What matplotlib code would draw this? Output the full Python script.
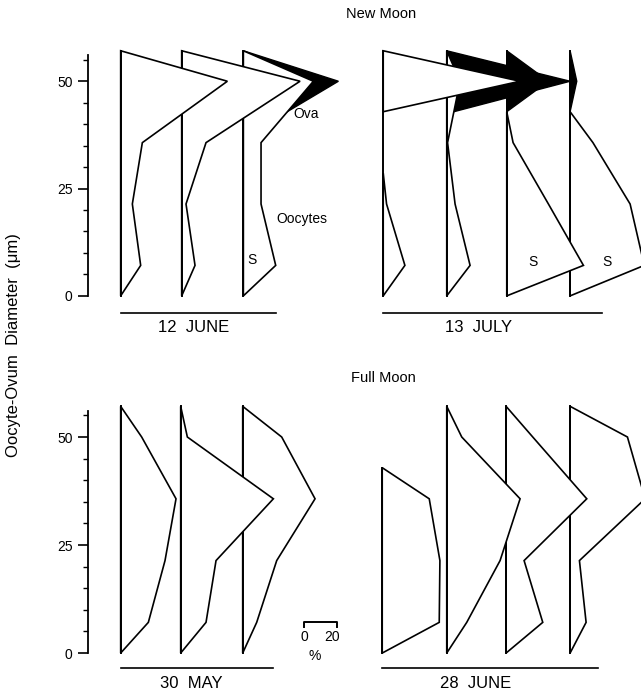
import matplotlib
matplotlib.use('Agg')
import matplotlib.pyplot as plt
from matplotlib.patches import Polygon

plt.rcParams['font.family'] = ['Liberation Sans', 'DejaVu Sans']

# diameter classes (um): class edges and midpoints
edges = [0, 14.3, 28.6, 42.9, 57.1]
mids = [7.1, 21.4, 35.7, 50.0]

# % of oocytes in each class (small -> large), and % ova in the top class
june12_oocytes = [[12, 7, 13, 64], [8, 2.6, 14.6, 71], [19.4, 10.6, 10.6, 42]]
june12_ova = [0, 0, 15]
july13_oocytes = [[13, 2, 0, 82], [14, 5, 0.5, 8], [46, 25, 3.8, 0], [44.5, 36, 13.7, 0]]
july13_ova = [0, 66, 25, 4]
may30_oocytes = [[16.6, 26.6, 33.2, 12.6], [15.2, 21.2, 55.6, 4], [8.4, 20.4, 43.4, 23.4]]
may30_ova = [0, 0, 0]
june28_oocytes = [[34.2, 34.6, 28.2, 0], [12, 32, 44, 9], [22, 10.8, 48.4, 16], [9.6, 5.6, 45, 34.4]]
june28_ova = [0, 0, 0, 0]

# horizontal placement of each profile (in % units from the axis)
june12_x0 = [19.6, 56.2, 93.2]
july13_x0 = [177.1, 215.2, 251.2, 289.2]
may30_x0 = [19.6, 55.6, 92.8]
june28_x0 = [176.5, 215.2, 250.8, 289.2]


def draw_profile(ax, x0, pct, ova, z):
    # runs of non-empty classes
    runs, cur = [], []
    for i, v in enumerate(pct):
        if v > 0:
            cur.append(i)
        elif cur:
            runs.append(cur)
            cur = []
    if cur:
        runs.append(cur)

    if ova > 0:
        tip = pct[3] + ova
        low = (pct[2] + pct[3]) / 2 if pct[3] > 0 else 0
        ax.add_patch(Polygon([(x0, edges[4]), (x0 + tip, mids[3]), (x0 + low, edges[3])],
                             closed=True, fc='black', ec='black', lw=1.0, zorder=z))
    for run in runs:
        pts = [(x0, edges[run[0]])] + [(x0 + pct[i], mids[i]) for i in run] + [(x0, edges[run[-1] + 1])]
        ax.add_patch(Polygon(pts, closed=True, fc='white', ec='black', lw=1.2,
                             joinstyle='miter', zorder=z + 0.1))
    lo = edges[runs[0][0]]
    hi = edges[4] if ova > 0 else edges[runs[-1][-1] + 1]
    ax.plot([x0, x0], [lo, hi], color='black', lw=1.4, zorder=z + 0.2)


def setup_axis(ax, ylim):
    ax.set_xlim(0, 553 / 1.667)
    ax.set_ylim(*ylim)
    for s in ['top', 'right', 'bottom']:
        ax.spines[s].set_visible(False)
    ax.spines['left'].set_bounds(0, 56)
    ax.spines['left'].set_linewidth(1.3)
    ax.set_xticks([])
    ax.set_yticks([0, 25, 50])
    ax.set_yticks([5, 10, 15, 20, 30, 35, 40, 45, 55], minor=True)
    ax.tick_params(axis='y', which='major', length=7, width=1.2, labelsize=10, pad=4)
    ax.tick_params(axis='y', which='minor', length=3.5, width=1.0)
    ax.patch.set_alpha(0)


fig = plt.figure(figsize=(6.41, 6.91), dpi=100)
ax_top = fig.add_axes([88 / 641, 0.5097, 553 / 641, 0.4336])
ax_bot = fig.add_axes([88 / 641, 0.0049, 553 / 641, 0.4252])
setup_axis(ax_top, (-10, 59.8))
setup_axis(ax_bot, (-8, 60))

groups = [
    (ax_top, june12_x0, june12_oocytes, june12_ova),
    (ax_top, july13_x0, july13_oocytes, july13_ova),
    (ax_bot, may30_x0, may30_oocytes, may30_ova),
    (ax_bot, june28_x0, june28_oocytes, june28_ova),
]
for ax, xs, pcts, ovas in groups:
    for k, (x0, pct, ova) in enumerate(zip(xs, pcts, ovas)):
        draw_profile(ax, x0, pct, ova, 20 - 3 * k)

# date underlines and labels
ax_top.plot([19.6, 112.6], [-4, -4], color='black', lw=1.2, clip_on=False)
ax_top.plot([177.0, 308.2], [-4, -4], color='black', lw=1.2, clip_on=False)
ax_bot.plot([19.6, 111.0], [-3.5, -3.5], color='black', lw=1.2, clip_on=False)
ax_bot.plot([176.5, 306.0], [-3.5, -3.5], color='black', lw=1.2, clip_on=False)
ax_top.text(63.6, -7.4, '12  JUNE', ha='center', va='center', fontsize=12)
ax_top.text(234.0, -7.4, '13  JULY', ha='center', va='center', fontsize=12)
ax_bot.text(61.8, -7.0, '30  MAY', ha='center', va='center', fontsize=12)
ax_bot.text(232.8, -7.0, '28  JUNE', ha='center', va='center', fontsize=12)

# annotations
ax_top.text(130.8, 42.3, 'Ova', ha='center', va='center', fontsize=10, zorder=30)
ax_top.text(128.4, 17.8, 'Oocytes', ha='center', va='center', fontsize=10, zorder=30)
ax_top.text(98.4, 8.4, 'S', ha='center', va='center', fontsize=10, zorder=30)
ax_top.text(267.0, 7.9, 'S', ha='center', va='center', fontsize=10, zorder=30)
ax_top.text(311.3, 7.9, 'S', ha='center', va='center', fontsize=10, zorder=30)

# 20 % scale bar
ax_bot.plot([129.6, 129.6, 149.6, 149.6], [6.0, 7.2, 7.2, 6.0], color='black', lw=1.4)
ax_bot.text(129.6, 3.6, '0', ha='center', va='center', fontsize=10)
ax_bot.text(146.5, 3.6, '20', ha='center', va='center', fontsize=10)
ax_bot.text(136.0, -0.6, '%', ha='center', va='center', fontsize=10)

fig.text(381 / 641, 1 - 14 / 691, 'New Moon', ha='center', va='center', fontsize=10.5)
fig.text(383 / 641, 1 - 378 / 691, 'Full Moon', ha='center', va='center', fontsize=10.5)
fig.text(14 / 641, 1 - 345 / 691, 'Oocyte-Ovum  Diameter  (μm)', ha='center', va='center',
         rotation=90, fontsize=12)

fig.savefig('out.png', dpi=100)
